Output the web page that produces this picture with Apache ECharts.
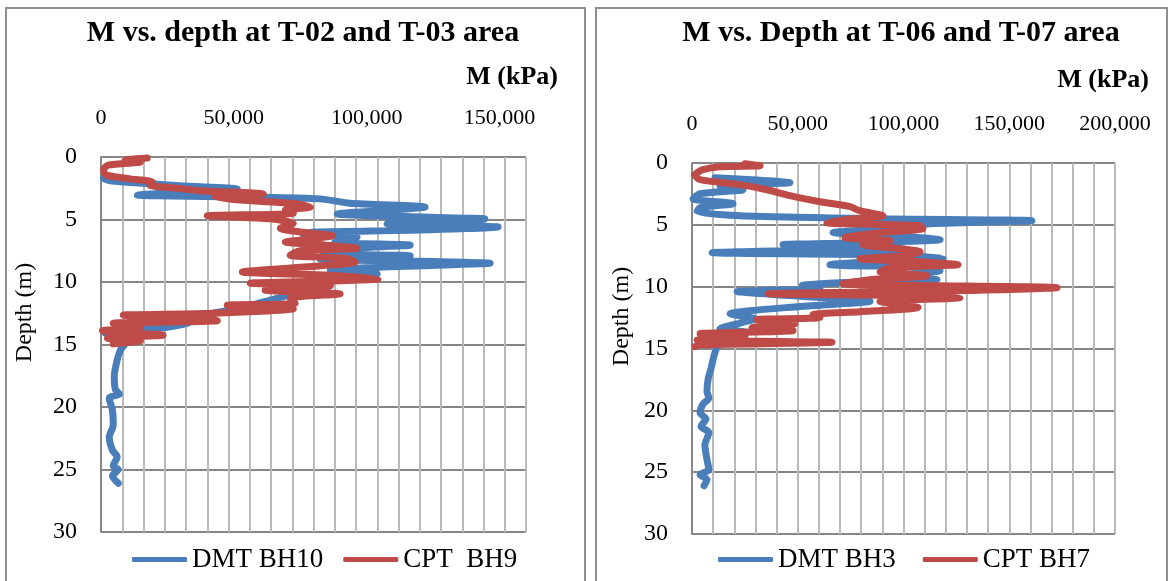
<!DOCTYPE html>
<html lang="en">
<head>
    <meta charset="utf-8"/>
    <title>M vs. depth</title>
    <script src="https://cdn.jsdelivr.net/npm/echarts@6/dist/echarts.min.js"></script>
</head>
<body style="margin: 0; background: #fff">
<div id="chart" style="width: 1169px; height: 581px"></div>
<script>
    // [M (kPa), depth (m)]
    const dmtBH10 = [
        [900, 1.7], [3500, 1.9], [29800, 2.3], [51300, 2.55], [29800, 2.8], [13700, 3.05], [56200, 3.2],
        [82500, 3.35], [93800, 3.7], [122000, 4.0], [108800, 4.25], [88900, 4.55], [120100, 4.8],
        [144500, 4.95], [108800, 5.2], [107700, 5.35], [149500, 5.6], [120100, 5.85], [80600, 6.0],
        [76100, 6.15], [96400, 6.4], [88100, 6.8], [116400, 7.05], [90000, 7.35], [83600, 7.7],
        [116400, 7.9], [82500, 8.15], [146500, 8.5], [120100, 8.7], [86300, 9.05], [104000, 9.35],
        [78700, 9.75], [86300, 10.3], [75000, 10.8], [63700, 11.45], [52400, 12.1], [37400, 12.7],
        [32500, 13.3], [22300, 13.7], [9900, 13.85], [1600, 14.1], [7300, 14.3], [9500, 14.7],
        [8800, 15.05], [7300, 15.45], [5800, 16.5], [5000, 17.6], [5400, 18.6], [6900, 18.95],
        [3100, 19.3], [4300, 20.25], [4600, 21.45], [3100, 22.4], [4300, 23.45], [6100, 24.0],
        [4600, 24.7], [6500, 25.0], [4300, 25.5], [6500, 26.1]
    ];
    const cptBH9 = [
        [17400, 0.08], [9100, 0.25], [14800, 0.4], [2700, 0.65], [900, 1.05], [2000, 1.45], [11000, 1.75],
        [19300, 2.0], [18500, 2.25], [28700, 2.5], [37400, 2.7], [61100, 2.95], [43000, 3.2], [52400, 3.45],
        [71200, 3.7], [78800, 4.0], [69400, 4.25], [72400, 4.5], [40000, 4.7], [63700, 4.95], [72400, 5.3],
        [67500, 5.7], [75000, 6.0], [87100, 6.3], [78700, 6.55], [69400, 6.8], [84400, 7.05], [96400, 7.3],
        [75000, 7.5], [71200, 7.85], [91900, 8.1], [95700, 8.4], [82500, 8.7], [53200, 9.2], [86300, 9.45],
        [104300, 9.75], [56200, 10.1], [86300, 10.3], [61800, 10.65], [90000, 10.95], [71200, 11.3],
        [73100, 11.7], [47500, 11.85], [72400, 12.15], [42200, 12.5], [8400, 12.65], [37400, 12.9],
        [43800, 13.1], [4600, 13.3], [14800, 13.6], [500, 13.9], [23400, 14.25], [2400, 14.5],
        [14800, 14.7], [4600, 14.95]
    ];
    const dmtBH3 = [
        [10900, 1.19], [46300, 1.59], [13200, 1.84], [24100, 2.16], [3800, 2.48], [500, 2.89], [19400, 3.29],
        [3800, 3.61], [2400, 3.94], [22700, 4.26], [88900, 4.5], [160700, 4.66], [112500, 4.91], [98300, 5.23],
        [66700, 5.63], [93600, 5.88], [117300, 6.2], [79400, 6.44], [43000, 6.6], [98300, 6.85], [9500, 7.25],
        [88900, 7.41], [118700, 7.66], [84200, 7.98], [65200, 8.22], [112500, 8.46], [117300, 8.7],
        [98300, 9.11], [115800, 9.43], [70000, 9.68], [52000, 9.92], [60500, 10.16], [21300, 10.4],
        [46300, 10.72], [84200, 11.2], [51100, 11.6], [18000, 12.2], [29800, 12.6], [23600, 12.9],
        [13200, 13.4], [26000, 13.7], [15600, 14.0], [25100, 14.2], [12300, 14.7], [11300, 15.1],
        [10400, 15.6], [9000, 16.6], [7600, 17.5], [7100, 18.5], [8000, 19.0], [5200, 19.5], [3800, 20.2],
        [6600, 20.7], [4300, 21.3], [8000, 21.8], [6100, 22.8], [7100, 24.0], [8000, 24.8], [3800, 25.2],
        [7100, 25.6], [5700, 26.1]
    ];
    const cptBH7 = [
        [25100, 0.06], [32200, 0.22], [13200, 0.3], [5200, 0.54], [1400, 0.95], [3800, 1.35], [22700, 1.75],
        [35500, 2.16], [46300, 2.64], [60500, 3.13], [74700, 3.53], [79400, 3.86], [90300, 4.26],
        [72300, 4.58], [63800, 4.83], [107800, 5.07], [109200, 5.31], [88900, 5.63], [72300, 6.04],
        [93600, 6.28], [80800, 6.6], [98300, 6.93], [107800, 7.17], [100700, 7.49], [79400, 7.74],
        [107800, 7.98], [125800, 8.22], [93600, 8.46], [88900, 8.79], [111100, 9.11], [84200, 9.43],
        [71400, 9.76], [172600, 10.08], [126700, 10.32], [35900, 10.57], [112500, 10.73], [126700, 10.89],
        [88900, 11.2], [106900, 11.69], [79400, 12.02], [57200, 12.26], [60500, 12.5], [30700, 12.66],
        [48700, 12.99], [28400, 13.31], [47800, 13.56], [3800, 13.8], [25100, 13.96], [2400, 14.3],
        [66200, 14.5], [3800, 14.7], [1400, 14.85]
    ];

    const xMaxLeft = 160000;
    const xMaxRight = 200000;
    const xLabelStep = 50000;
    const depthMax = 30;
    const depthStep = 5;

    const BLUE = '#4a7ebb';
    const RED = '#be4b48';
    const serif = '"Liberation Serif", "Times New Roman", serif';

    let chart = echarts.init(document.getElementById('chart'));

    // axis that only draws the light vertical grid
    function gridAxis(gridIndex, max, step) {
        return {
            type: 'value', gridIndex: gridIndex, position: 'bottom', min: 0, max: max, interval: step,
            axisLine: {show: false}, axisTick: {show: false}, axisLabel: {show: false},
            splitLine: {show: true, lineStyle: {color: '#b9b9b9', width: 2}}
        };
    }

    // axis on top that carries the tick labels
    function labelAxis(gridIndex, max) {
        return {
            type: 'value', gridIndex: gridIndex, position: 'top', min: 0, max: max, interval: xLabelStep,
            axisLine: {show: false}, axisTick: {show: false}, splitLine: {show: false},
            axisLabel: {
                margin: 28, fontFamily: serif, fontSize: 22, color: '#000',
                formatter: v => (v % xLabelStep === 0 ? v.toLocaleString('en-US') : '')
            }
        };
    }

    function depthAxis(gridIndex, gap) {
        return {
            type: 'value', gridIndex: gridIndex, inverse: true, min: 0, max: depthMax, interval: depthStep,
            name: 'Depth (m)', nameLocation: 'middle', nameGap: gap,
            nameTextStyle: {fontFamily: serif, fontSize: 24, color: '#000', padding: [0, 0, 0, 64]},
            axisLine: {show: true, lineStyle: {color: '#878787', width: 2}},
            axisTick: {show: false},
            axisLabel: {margin: 24, fontFamily: serif, fontSize: 24, color: '#000'},
            splitLine: {show: true, lineStyle: {color: '#878787', width: 2}}
        };
    }

    function profile(name, xIdx, yIdx, data, color) {
        return {
            name: name, type: 'line', xAxisIndex: xIdx, yAxisIndex: yIdx, data: data,
            symbol: 'none', smooth: 0.25, color: color,
            lineStyle: {color: color, width: 7, cap: 'round', join: 'round'}
        };
    }

    const legendBase = {
        top: 541, icon: 'roundRect', itemWidth: 55, itemHeight: 5,
        textStyle: {fontFamily: serif, fontSize: 27, color: '#000'}
    };

    chart.setOption({
        animation: false,
        backgroundColor: '#fff',
        grid: [
            {left: 101, top: 157, width: 425, height: 375},
            {left: 692, top: 163, width: 423, height: 371}
        ],
        xAxis: [
            gridAxis(0, xMaxLeft, 8000), labelAxis(0, xMaxLeft),
            gridAxis(1, xMaxRight, 10000), labelAxis(1, xMaxRight)
        ],
        yAxis: [depthAxis(0, 64), depthAxis(1, 58)],
        legend: [
            Object.assign({data: ['DMT BH10', 'CPT  BH9'], left: 127, itemGap: 20}, legendBase),
            Object.assign({data: ['DMT BH3', 'CPT BH7'], left: 713, itemGap: 27}, legendBase)
        ],
        graphic: [
            {type: 'rect', shape: {x: 6, y: 8, width: 579, height: 590}, style: {fill: 'none', stroke: '#8e8e8e', lineWidth: 2}},
            {type: 'rect', shape: {x: 596, y: 8, width: 571, height: 590}, style: {fill: 'none', stroke: '#8e8e8e', lineWidth: 2}},
            {
                type: 'text', style: {
                    text: 'M vs. depth at T-02 and T-03 area', x: 303, y: 33, fill: '#000',
                    font: 'bold 30px ' + serif, textAlign: 'center', textVerticalAlign: 'middle'
                }
            },
            {
                type: 'text', style: {
                    text: 'M vs. Depth at T-06 and T-07 area', x: 901, y: 33, fill: '#000',
                    font: 'bold 30px ' + serif, textAlign: 'center', textVerticalAlign: 'middle'
                }
            },
            {
                type: 'text', style: {
                    text: 'M (kPa)', x: 558, y: 77, fill: '#000',
                    font: 'bold 26px ' + serif, textAlign: 'right', textVerticalAlign: 'middle'
                }
            },
            {
                type: 'text', style: {
                    text: 'M (kPa)', x: 1149, y: 80, fill: '#000',
                    font: 'bold 26px ' + serif, textAlign: 'right', textVerticalAlign: 'middle'
                }
            }
        ],
        series: [
            profile('DMT BH10', 0, 0, dmtBH10, BLUE),
            profile('CPT  BH9', 0, 0, cptBH9, RED),
            profile('DMT BH3', 2, 1, dmtBH3, BLUE),
            profile('CPT BH7', 2, 1, cptBH7, RED)
        ]
    });
</script>
</body>
</html>
